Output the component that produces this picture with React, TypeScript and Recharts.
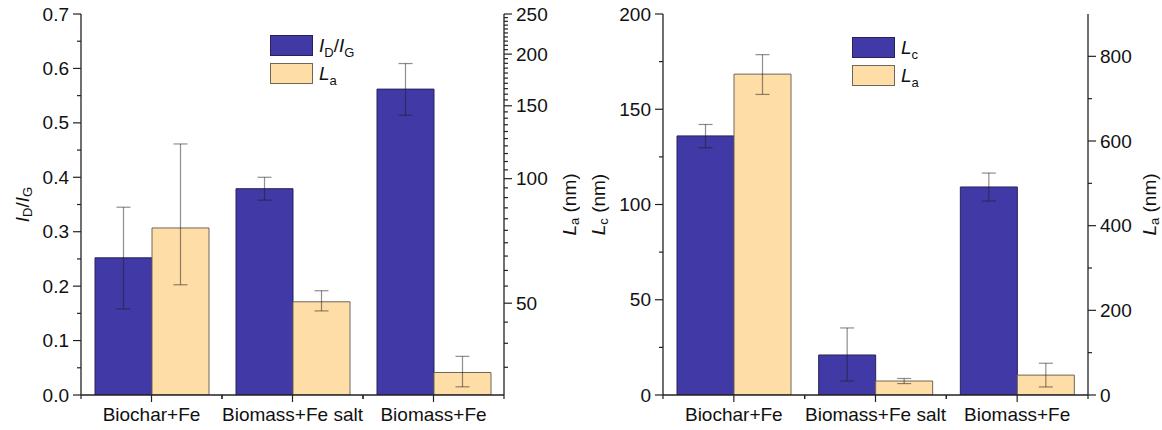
import React from 'react';
import { BarChart, Bar, XAxis, YAxis, ErrorBar, Legend } from 'recharts';

// ---------- data ----------
const categories = ['Biochar+Fe', 'Biomass+Fe salt', 'Biomass+Fe'];

const idigValues = [0.252, 0.379, 0.562];
const idigErrors = [[0.094, 0.093], [0.021, 0.021], [0.048, 0.047]];
const laLeftValues = [76, 50.4, 34];
const laLeftErrors = [[20.6, 45.3], [2.5, 3.2], [2.6, 3.2]];

const lcValues = [136, 21, 109.2];
const lcErrors = [[6.2, 6.0], [13.7, 14.2], [7.4, 7.3]];
const laRightValues = [758, 33, 47];
const laRightErrors = [[48, 46], [6, 6], [28, 28]];

// ---------- ticks ----------
const idigMajor = [0, 0.1, 0.2, 0.3, 0.4, 0.5, 0.6, 0.7];
const idigMinor = [0.05, 0.15, 0.25, 0.35, 0.45, 0.55, 0.65];
const laLogMajor = [50, 100, 150, 200, 250];
const laLogMinor = Array.from({ length: 43 }, (_, i) => 35 + i * 5).filter((v) => v % 50 !== 0);
const lcMajor = [0, 50, 100, 150, 200];
const lcMinor = [25, 75, 125, 175];
const laRightMajor = [0, 200, 400, 600, 800];
const laRightMinor = [100, 300, 500, 700];

const leftData = categories.map((name, i) => ({
  name,
  idig: idigValues[i],
  idigErr: idigErrors[i],
  la: laLeftValues[i],
  laErr: laLeftErrors[i],
}));

const rightData = categories.map((name, i) => ({
  name,
  lc: lcValues[i],
  lcErr: lcErrors[i],
  la: laRightValues[i],
  laErr: laRightErrors[i],
}));

// ---------- style ----------
const FONT = '"Liberation Sans", Arial, Helvetica, sans-serif';
const FS = 19;
const SUB = 13;
const AXIS = '#222';
const BLUE = '#4139a6';
const BLUE_STROKE = '#26235a';
const ORANGE = '#ffdda7';
const ORANGE_STROKE = '#6e665a';
const ERR = 'rgba(30,30,30,0.5)';

const axisLine = { stroke: AXIS, strokeWidth: 1.3 };

type TickProps = any;

const makeYTick = (side: 'left' | 'right', majors: number[], fmt: (v: number) => string) =>
  (props: TickProps) => {
    const { x, y, payload } = props;
    const v = payload.value as number;
    const isMajor = majors.some((m) => Math.abs(m - v) < 1e-9);
    const dir = side === 'left' ? -1 : 1;
    const len = isMajor ? 8 : 4;
    return (
      <g>
        <line x1={x} x2={x + dir * len} y1={y} y2={y} stroke={AXIS} strokeWidth={1.2} />
        {isMajor && (
          <text
            x={x + dir * (len + 4)}
            y={y}
            textAnchor={side === 'left' ? 'end' : 'start'}
            dominantBaseline="central"
            fontFamily={FONT}
            fontSize={FS}
            fill="#111"
          >
            {fmt(v)}
          </text>
        )}
      </g>
    );
  };

const makeXTick = (band: number) => (props: TickProps) => {
  const { x, y, payload } = props;
  return (
    <g>
      <line x1={x} x2={x} y1={y} y2={y + 7} stroke={AXIS} strokeWidth={1.2} />
      <line x1={x - band / 2} x2={x - band / 2} y1={y} y2={y + 4} stroke={AXIS} strokeWidth={1.2} />
      <line x1={x + band / 2} x2={x + band / 2} y1={y} y2={y + 4} stroke={AXIS} strokeWidth={1.2} />
      <text x={x} y={y + 26} textAnchor="middle" fontFamily={FONT} fontSize={FS} fill="#111">
        {payload.value}
      </text>
    </g>
  );
};

// rotated axis title with italic symbol + subscripts
type Part = { t: string; italic?: boolean; sub?: boolean };
const makeAxisTitle = (parts: Part[], side: 'left' | 'right', dist: number) => (props: any) => {
  const vb = props.viewBox || {};
  const axisX = side === 'left' ? vb.x + vb.width : vb.x;
  const cx = side === 'left' ? axisX - dist : axisX + dist;
  const cy = vb.y + vb.height / 2;
  let prevSub = false;
  return (
    <text
      x={cx}
      y={cy}
      transform={`rotate(-90 ${cx} ${cy})`}
      textAnchor="middle"
      dominantBaseline="central"
      fontFamily={FONT}
      fontSize={FS}
      fill="#111"
    >
      {parts.map((p, i) => {
        let dy = 0;
        if (p.sub && !prevSub) dy = 5;
        if (!p.sub && prevSub) dy = -5;
        prevSub = !!p.sub;
        return (
          <tspan
            key={i}
            dy={dy}
            fontStyle={p.italic ? 'italic' : 'normal'}
            fontSize={p.sub ? SUB : FS}
          >
            {p.t}
          </tspan>
        );
      })}
    </text>
  );
};

const idigTitle: Part[] = [
  { t: 'I', italic: true },
  { t: 'D', sub: true },
  { t: '/' },
  { t: 'I', italic: true },
  { t: 'G', sub: true },
];
const laTitle: Part[] = [{ t: 'L', italic: true }, { t: 'a', sub: true }, { t: ' (nm)' }];
const lcTitle: Part[] = [{ t: 'L', italic: true }, { t: 'c', sub: true }, { t: ' (nm)' }];

const subStyle: React.CSSProperties = { fontSize: SUB, verticalAlign: 'sub', lineHeight: 0, fontStyle: 'normal' };

const LegendBox = ({ items }: { items: { fill: string; stroke: string; label: React.ReactNode }[] }) => (
  <div style={{ display: 'flex', flexDirection: 'column', gap: 7, fontFamily: FONT, fontSize: FS, color: '#111' }}>
    {items.map((it, i) => (
      <div key={i} style={{ display: 'flex', alignItems: 'center', height: 21 }}>
        <div
          style={{
            width: 43,
            height: 21,
            background: it.fill,
            border: `1.3px solid ${it.stroke}`,
            boxSizing: 'border-box',
          }}
        />
        <span style={{ marginLeft: 6, lineHeight: '21px', whiteSpace: 'nowrap' }}>{it.label}</span>
      </div>
    ))}
  </div>
);

const idigLabel = (
  <>
    <i>I</i>
    <span style={subStyle}>D</span>/<i>I</i>
    <span style={subStyle}>G</span>
  </>
);
const laLabel = (
  <>
    <i>L</i>
    <span style={subStyle}>a</span>
  </>
);
const lcLabel = (
  <>
    <i>L</i>
    <span style={subStyle}>c</span>
  </>
);

const LEFT_W = 580;
const RIGHT_W = 582;
const H = 430;

export default function App() {
  return (
    <div style={{ position: 'absolute', left: 0, top: 0, width: 1162, height: 430, background: '#fff', fontFamily: FONT }}>
      <div style={{ position: 'absolute', left: 0, top: 0 }}>
        <BarChart
          width={LEFT_W}
          height={H}
          data={leftData}
          margin={{ top: 14, right: 0, bottom: 0, left: 0 }}
          barGap={0}
          barSize={57}
        >
          <XAxis
            dataKey="name"
            height={35}
            axisLine={axisLine}
            tickLine={false}
            tickSize={0}
            tickMargin={0}
            interval={0}
            tick={makeXTick(141)}
          />
          <XAxis xAxisId="top" dataKey="name" orientation="top" height={0} tick={false} tickLine={false} axisLine={axisLine} />
          <YAxis
            yAxisId="idig"
            orientation="left"
            width={81}
            type="number"
            domain={[0, 0.7]}
            allowDataOverflow
            ticks={[...idigMajor, ...idigMinor]}
            interval={0}
            tickSize={0}
            tickMargin={0}
            tickLine={false}
            axisLine={axisLine}
            tick={makeYTick('left', idigMajor, (v) => v.toFixed(1))}
            label={{ content: makeAxisTitle(idigTitle, 'left', 59) }}
          />
          <YAxis
            yAxisId="la"
            orientation="right"
            width={76}
            type="number"
            scale="log"
            domain={[30, 250]}
            allowDataOverflow
            ticks={[...laLogMajor, ...laLogMinor]}
            interval={0}
            tickSize={0}
            tickMargin={0}
            tickLine={false}
            axisLine={axisLine}
            tick={makeYTick('right', laLogMajor, (v) => String(v))}
            label={{ content: makeAxisTitle(laTitle, 'right', 65) }}
          />
          <Legend
            layout="vertical"
            align="center"
            verticalAlign="middle"
            wrapperStyle={{ left: 270, top: 35, width: 'auto', height: 'auto' }}
            content={() => (
              <LegendBox
                items={[
                  { fill: BLUE, stroke: BLUE_STROKE, label: idigLabel },
                  { fill: ORANGE, stroke: ORANGE_STROKE, label: laLabel },
                ]}
              />
            )}
          />
          <Bar dataKey="idig" yAxisId="idig" fill={BLUE} stroke={BLUE_STROKE} strokeWidth={1} isAnimationActive={false}>
            <ErrorBar dataKey="idigErr" width={7} stroke={ERR} strokeWidth={1.2} />
          </Bar>
          <Bar dataKey="la" yAxisId="la" fill={ORANGE} stroke={ORANGE_STROKE} strokeWidth={1} isAnimationActive={false}>
            <ErrorBar dataKey="laErr" width={7} stroke={ERR} strokeWidth={1.2} />
          </Bar>
        </BarChart>
      </div>

      <div style={{ position: 'absolute', left: LEFT_W, top: 0 }}>
        <BarChart
          width={RIGHT_W}
          height={H}
          data={rightData}
          margin={{ top: 14, right: 0, bottom: 0, left: 0 }}
          barGap={0}
          barSize={57}
        >
          <XAxis
            dataKey="name"
            height={35}
            axisLine={axisLine}
            tickLine={false}
            tickSize={0}
            tickMargin={0}
            interval={0}
            tick={makeXTick(141.7)}
          />
          <XAxis xAxisId="top" dataKey="name" orientation="top" height={0} tick={false} tickLine={false} axisLine={axisLine} />
          <YAxis
            yAxisId="lc"
            orientation="left"
            width={83}
            type="number"
            domain={[0, 200]}
            allowDataOverflow
            ticks={[...lcMajor, ...lcMinor]}
            interval={0}
            tickSize={0}
            tickMargin={0}
            tickLine={false}
            axisLine={axisLine}
            tick={makeYTick('left', lcMajor, (v) => String(v))}
            label={{ content: makeAxisTitle(lcTitle, 'left', 65) }}
          />
          <YAxis
            yAxisId="la"
            orientation="right"
            width={74}
            type="number"
            domain={[0, 900]}
            allowDataOverflow
            ticks={[...laRightMajor, ...laRightMinor]}
            interval={0}
            tickSize={0}
            tickMargin={0}
            tickLine={false}
            axisLine={axisLine}
            tick={makeYTick('right', laRightMajor, (v) => String(v))}
            label={{ content: makeAxisTitle(laTitle, 'right', 61) }}
          />
          <Legend
            layout="vertical"
            align="center"
            verticalAlign="middle"
            wrapperStyle={{ left: 272, top: 37, width: 'auto', height: 'auto' }}
            content={() => (
              <LegendBox
                items={[
                  { fill: BLUE, stroke: BLUE_STROKE, label: lcLabel },
                  { fill: ORANGE, stroke: ORANGE_STROKE, label: laLabel },
                ]}
              />
            )}
          />
          <Bar dataKey="lc" yAxisId="lc" fill={BLUE} stroke={BLUE_STROKE} strokeWidth={1} isAnimationActive={false}>
            <ErrorBar dataKey="lcErr" width={7} stroke={ERR} strokeWidth={1.2} />
          </Bar>
          <Bar dataKey="la" yAxisId="la" fill={ORANGE} stroke={ORANGE_STROKE} strokeWidth={1} isAnimationActive={false}>
            <ErrorBar dataKey="laErr" width={7} stroke={ERR} strokeWidth={1.2} />
          </Bar>
        </BarChart>
      </div>
    </div>
  );
}
